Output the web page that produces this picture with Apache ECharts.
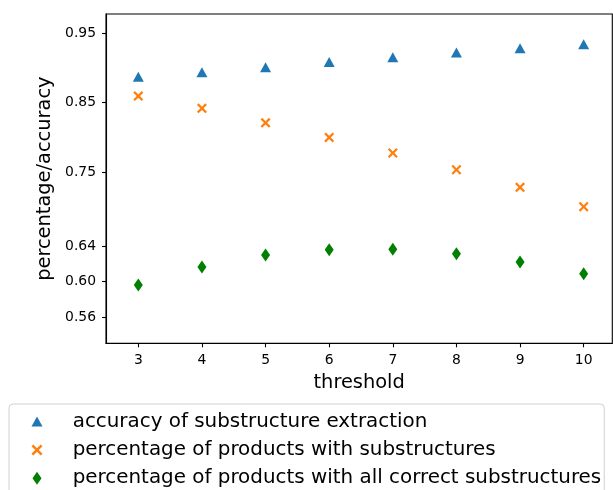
<!DOCTYPE html>
<html>
<head>
<meta charset="utf-8">
<script src="https://cdn.jsdelivr.net/npm/echarts@6/dist/echarts.min.js"></script>
<style>html,body{margin:0;padding:0;background:#fff;}#c{width:613px;height:490px;}</style>
</head>
<body>
<div id="c"></div>
<script>
// ---- data ----
const thresholds = [3, 4, 5, 6, 7, 8, 9, 10];
const accuracy = [0.8875, 0.8942, 0.9014, 0.9090, 0.9158, 0.9228, 0.9288, 0.9346];
const withSub = [0.8597, 0.8419, 0.8210, 0.7999, 0.7775, 0.7533, 0.7273, 0.6984];
const allCorrect = [0.5963, 0.6165, 0.6299, 0.6359, 0.6363, 0.6314, 0.6221, 0.6090];
const yTickValues = [0.56, 0.60, 0.64, 0.75, 0.85, 0.95];
const yTickLabels = ['0.56', '0.60', '0.64', '0.75', '0.85', '0.95'];
const xTickValues = [3, 4, 5, 6, 7, 8, 9, 10];
const seriesNames = [
  'accuracy of substructure extraction',
  'percentage of products with substructures',
  'percentage of products with all correct substructures'
];

// ---- non-uniform y scale (piecewise linear between tick values) ----
const yScaleUnits = [0, 36, 71.7, 145.7, 215, 284];
function fwd(v) {
  const V = yTickValues, P = yScaleUnits, n = V.length;
  let i = 0;
  if (v <= V[0]) i = 0;
  else if (v >= V[n - 1]) i = n - 2;
  else { while (i < n - 2 && v > V[i + 1]) i++; }
  return P[i] + (v - V[i]) * (P[i + 1] - P[i]) / (V[i + 1] - V[i]);
}
const yMin = 0.5316, yMax = 0.9786;
const xMin = 2.492, xMax = 10.45;

const font = 'DejaVu Sans';
const crossPath = 'path://M0,1.6 L1.6,0 L5,3.4 L8.4,0 L10,1.6 L6.6,5 L10,8.4 L8.4,10 L5,6.6 L1.6,10 L0,8.4 L3.4,5 Z';
const triPath = 'path://M5.5,0 L11,10 L0,10 Z';
const diaPath = 'path://M4.5,0 L9,6.5 L4.5,13 L0,6.5 Z';

function pts(vals) { return thresholds.map((t, i) => [t, fwd(vals[i])]); }

const chart = echarts.init(document.getElementById('c'), null, {renderer: 'canvas'});
chart.setOption({
  animation: false,
  backgroundColor: '#fff',
  textStyle: {fontFamily: font},
  grid: {left: 106, right: 0.7, top: 14, bottom: 146.7, show: true, borderColor: '#000', borderWidth: 1.1, containLabel: false},
  xAxis: {
    type: 'value', min: xMin, max: xMax,
    name: 'threshold', nameLocation: 'middle', nameGap: 30,
    nameTextStyle: {fontSize: 19.4, color: '#000', fontFamily: font},
    axisLine: {show: true, onZero: false, lineStyle: {color: '#000', width: 1.1}},
    axisTick: {show: true, customValues: xTickValues, length: 4, lineStyle: {color: '#000', width: 1.1}},
    axisLabel: {customValues: xTickValues, margin: 10, fontSize: 13.9, color: '#000', fontFamily: font},
    splitLine: {show: false}
  },
  yAxis: {
    type: 'value', min: fwd(yMin), max: fwd(yMax),
    name: 'percentage/accuracy', nameLocation: 'middle', nameGap: 50,
    nameTextStyle: {fontSize: 19.4, color: '#000', fontFamily: font},
    axisLine: {show: true, lineStyle: {color: '#000', width: 1.1}},
    axisTick: {show: true, customValues: yTickValues.map(fwd), length: 4, lineStyle: {color: '#000', width: 1.1}},
    axisLabel: {
      customValues: yTickValues.map(fwd), margin: 10, fontSize: 13.9, color: '#000', fontFamily: font,
      formatter: function (val) {
        let best = 0, bd = Infinity;
        yTickValues.forEach((v, i) => { const d = Math.abs(fwd(v) - val); if (d < bd) { bd = d; best = i; } });
        return yTickLabels[best];
      }
    },
    splitLine: {show: false}
  },
  legend: {
    orient: 'vertical', left: 9, top: 404, height: 200,
    padding: [6.5, 3, 12, 22.5],
    itemWidth: 11, itemHeight: 13, itemGap: 6.4,
    backgroundColor: '#fff', borderColor: '#d0d0d0', borderWidth: 1, borderRadius: 4,
    textStyle: {fontSize: 19.9, color: '#000', fontFamily: font, lineHeight: 22, padding: [0, 0, 0, 25.2]},
    data: [
      {name: seriesNames[0], icon: triPath},
      {name: seriesNames[1], icon: crossPath},
      {name: seriesNames[2], icon: diaPath}
    ]
  },
  series: [
    {name: seriesNames[0], type: 'scatter', data: pts(accuracy), symbol: triPath, symbolSize: [11, 10],
     itemStyle: {color: '#1f77b4', opacity: 1}},
    {name: seriesNames[1], type: 'scatter', data: pts(withSub), symbol: crossPath, symbolSize: [10, 10],
     itemStyle: {color: '#ff7f0e', opacity: 1}},
    {name: seriesNames[2], type: 'scatter', data: pts(allCorrect), symbol: diaPath, symbolSize: [9, 13],
     itemStyle: {color: '#008000', opacity: 1}}
  ]
});
</script>
</body>
</html>
